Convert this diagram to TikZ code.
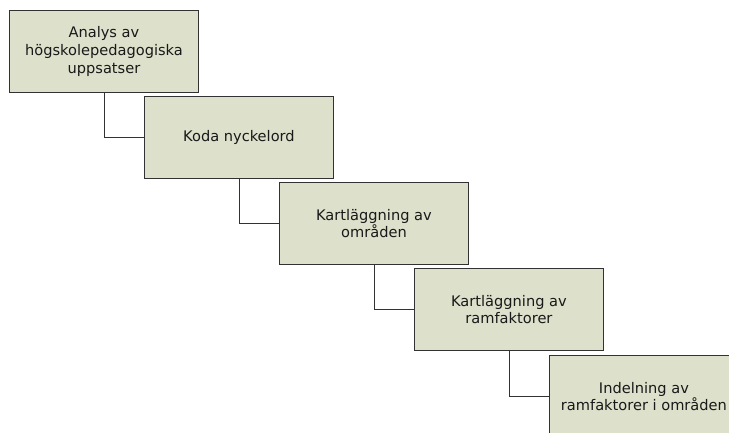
\documentclass[tikz,border=0pt]{standalone}
\usepackage{fontspec}
\setmainfont{DejaVu Sans}
\definecolor{boxfill}{RGB}{221,224,203}
\definecolor{boxline}{RGB}{50,50,50}
\begin{document}
\begin{tikzpicture}[x=1pt,y=1pt,
  stepbox/.style={draw=boxline, line width=0.9pt, fill=boxfill, minimum width=189pt, minimum height=82pt,
    inner sep=0pt, align=center, anchor=north west, font=\fontsize{14.6}{17.6}\selectfont, text=black!90},
  link/.style={draw=boxline, line width=0.9pt}]
\useasboundingbox (0,0) rectangle (729,-432);
\begin{scope}
\clip (0,0) rectangle (729,-432);
\node[stepbox] (b1) at (9,-10) {Analys av\\högskolepedagogiska\\uppsatser};
\node[stepbox] (b2) at (144,-96) {Koda nyckelord};
\node[stepbox] (b3) at (279,-182) {Kartläggning av\\områden};
\node[stepbox] (b4) at (414,-268) {Kartläggning av\\ramfaktorer};
\node[stepbox] (b5) at (549,-355) {Indelning av\\ramfaktorer i områden};
\draw[link] (b1.south) |- (b2.west);
\draw[link] (b2.south) |- (b3.west);
\draw[link] (b3.south) |- (b4.west);
\draw[link] (b4.south) |- (b5.west);
\end{scope}
\end{tikzpicture}
\end{document}
